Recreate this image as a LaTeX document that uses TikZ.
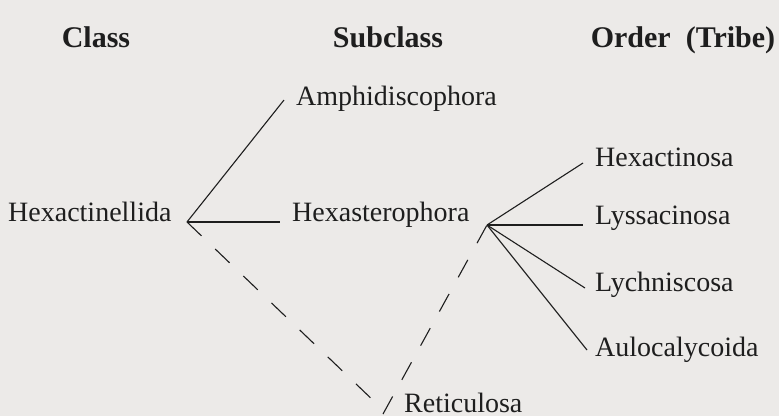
\documentclass[tikz,border=0pt]{standalone}
\usepackage{fontspec}
\setmainfont{Liberation Serif}
\definecolor{bgc}{RGB}{236,234,232}
\definecolor{ink}{RGB}{30,30,30}
\begin{document}
\begin{tikzpicture}[x=1pt,y=-1pt,
  head/.style={anchor=base,inner sep=0pt,text=ink,font=\fontsize{30}{32}\selectfont\bfseries},
  lab/.style={anchor=base west,inner sep=0pt,text=ink,font=\fontsize{28}{30}\selectfont},
  link/.style={draw=ink,line width=1.1pt},
  dlink/.style={draw=ink,line width=1.1pt,dash pattern=on 20pt off 19pt}]
\fill[bgc] (0,0) rectangle (779,416);
\useasboundingbox (0,0) rectangle (779,416);
% headers
\node[head] (hclass) at (96,47) {Class};
\node[head] (hsub) at (388,47) {Subclass};
\node[head] (hord) at (683,47) {Order\ \ (Tribe)};
% labels
\node[lab] (amph) at (296,105) {Amphidiscophora};
\node[lab] (hexl) at (8,221) {Hexactinellida};
\node[lab] (hexs) at (292,221) {Hexasterophora};
\node[lab] (hact) at (595,166) {Hexactinosa};
\node[lab] (lyss) at (595,224) {Lyssacinosa};
\node[lab] (lych) at (595,291) {Lychniscosa};
\node[lab] (aulo) at (595,356) {Aulocalycoida};
\node[lab] (reti) at (404,412) {Reticulosa};
% branching points
\coordinate (v1) at (187,222);
\coordinate (v2) at (487,225);
\coordinate (r1) at (378,405);
\coordinate (r2) at (383,414);
% connectors
\draw[link] (v1) -- ([xshift=-12pt,yshift=5pt]amph.base west);
\draw[link] (v1) -- ([xshift=-12pt,yshift=-1pt]hexs.base west);
\draw[dlink] (v1) -- (r1);
\draw[dlink] (r2) -- (v2);
\draw[link] (v2) -- ([xshift=-12pt,yshift=3pt]hact.base west);
\draw[link] (v2) -- ([xshift=-12pt,yshift=-1pt]lyss.base west);
\draw[link] (v2) -- ([xshift=-10pt,yshift=3pt]lych.base west);
\draw[link] (v2) -- ([xshift=-8pt,yshift=6pt]aulo.base west);
\end{tikzpicture}
\end{document}
